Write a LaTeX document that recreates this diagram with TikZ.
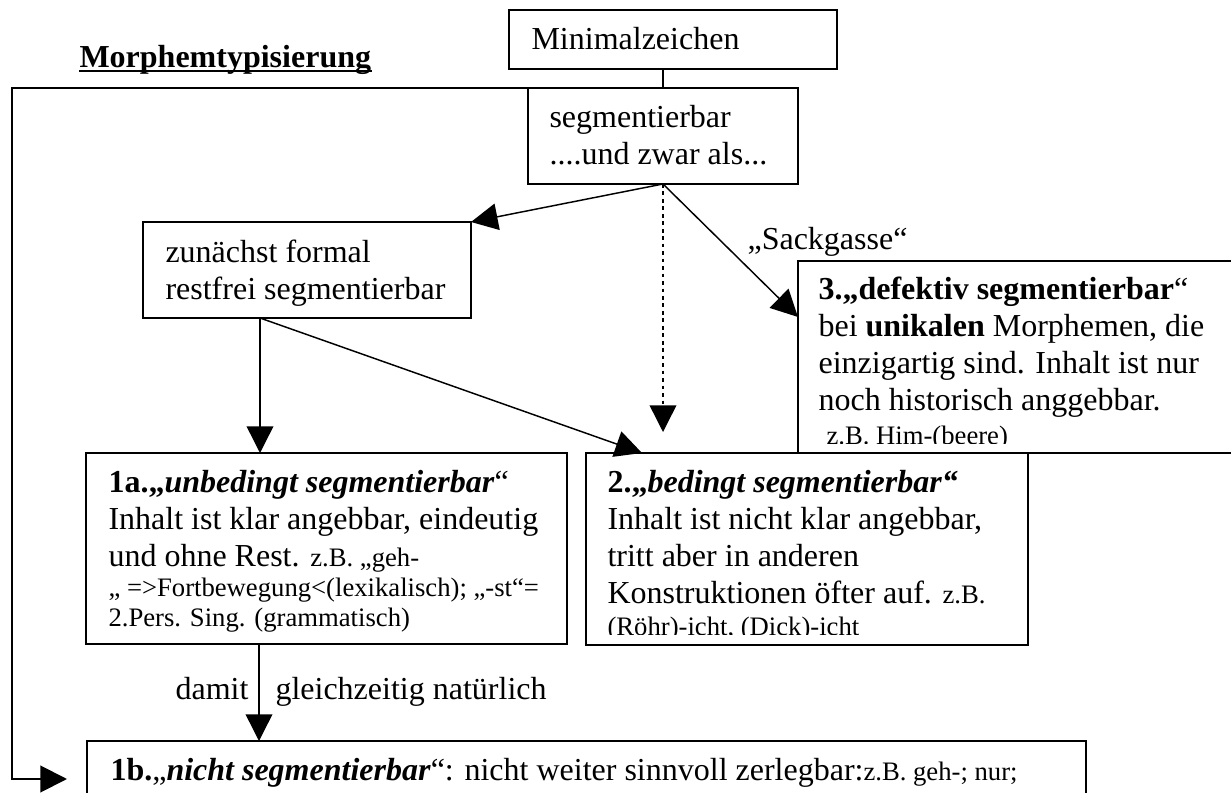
\documentclass[tikz,border=0pt]{standalone}
\usepackage{fontspec}
\setmainfont{Liberation Serif}
\usetikzlibrary{arrows.meta,calc}
\newcommand{\smz}{\fontsize{10}{11.5}\selectfont}
\tikzset{
  box/.style={draw, line width=0.75pt, rectangle, inner sep=0pt, outer sep=0pt, anchor=north west},
  txt/.style={anchor=base west, inner sep=0pt, font=\fontsize{12}{13.8}\selectfont},
  smtxt/.style={anchor=base west, inner sep=0pt, font=\smz},
  conn/.style={line width=0.55pt, -{Triangle[length=10pt,width=10pt]}},
  dotconn/.style={conn, dash pattern=on 1.4pt off 1.4pt},
  bracket/.style={line width=0.75pt, -{Triangle[length=10pt,width=10pt]}},
}
\begin{document}
\begin{tikzpicture}[x=0.375pt, y=-0.375pt]
\clip (0,0) rectangle (1231,793);
\fill[white] (0,0) rectangle (1231,793);

% title
\node[txt] (title) at (79,68) {\textbf{Morphemtypisierung}};
\draw[line width=0.75pt] ([yshift=-1.2pt]title.base west) -- ([yshift=-1.2pt]title.base east);

% texts
\node[txt] (mt) at (531,50) {Minimalzeichen};
\node[txt] (st1) at (549,128) {segmentierbar};
\node[txt] (st2) at (549,165) {....und zwar als...};
\node[txt] (zt1) at (165,263) {zunächst formal};
\node[txt] (zt2) at (165,300) {restfrei segmentierbar};

\node[txt] (b3a) at (818,300) {\textbf{3.„defektiv segmentierbar}“};
\node[txt] (b3b) at (818,337) {bei \textbf{unikalen} Morphemen, die};
\node[txt] (b3c) at (818,374) {einzigartig sind. Inhalt ist nur};
\node[txt] (b3d) at (818,411) {noch historisch anggebbar.};
\begin{scope}
\clip (798,420) rectangle (1231,444);
\node[smtxt] (b3e) at (826,445) {z.B. Him-(beere)};
\end{scope}

\node[txt] (a1a) at (108,493) {\textbf{1a.„\textit{unbedingt segmentierbar}}“};
\node[txt] (a1b) at (108,530) {Inhalt ist klar angebbar, eindeutig};
\node[txt] (a1c) at (108,567) {und ohne Rest. {\smz z.B. „geh-}};
\node[smtxt] (a1d) at (108,597) {„ =>Fortbewegung<(lexikalisch); „-st“=};
\node[smtxt] (a1e) at (108,627) {2.Pers. Sing. (grammatisch)};

\node[txt] (a2a) at (607,493) {\textbf{2.„\textit{bedingt segmentierbar“}}};
\node[txt] (a2b) at (607,530) {Inhalt ist nicht klar angebbar,};
\node[txt] (a2c) at (607,567) {tritt aber in anderen};
\node[txt] (a2d) at (607,604) {Konstruktionen öfter auf. {\smz z.B.}};
\begin{scope}
\clip (586,610) rectangle (1028,635);
\node[smtxt] (a2e) at (607,636) {(Röhr)-icht, (Dick)-icht};
\end{scope}

\node[txt] (b1a) at (110,780) {\textbf{1b.}„\textbf{\textit{nicht segmentierbar}}“: nicht weiter sinnvoll zerlegbar:{\smz z.B. geh-; nur;}};

% boxes
\node[box, minimum width={328*0.375pt}, minimum height={59*0.375pt}] (M) at (509,10) {};
\node[box, minimum width={270*0.375pt}, minimum height={96*0.375pt}] (S) at (528,88) {};
\node[box, minimum width={328*0.375pt}, minimum height={96*0.375pt}] (Z) at (143,222) {};
\node[box, minimum width={460*0.375pt}, minimum height={192*0.375pt}] (B3) at (798,261) {};
\node[box, minimum width={481*0.375pt}, minimum height={191*0.375pt}] (A1) at (86,453) {};
\node[box, minimum width={442*0.375pt}, minimum height={192*0.375pt}] (A2) at (586,453) {};
\node[box, minimum width={999*0.375pt}, minimum height={120*0.375pt}] (B1) at (87,741) {};

% connector points
\coordinate (t3) at ($(B3.north west)+(0,56)$);
\coordinate (dt) at ($(S.south |- A2.north)+(0,-21)$);
\coordinate (zb) at ($(Z.south west)+(117,0)$);
\coordinate (a2in) at ($(A2.north west)+(56,0)$);
\coordinate (a1b) at ($(A1.south west)+(173,0)$);
\coordinate (bl1) at (12,88);
\coordinate (bl2) at (67,779);

% connectors
\draw[line width=0.55pt] (M.south -| S.south) -- (S.north);
\draw[conn] (S.south) -- (Z.north east);
\draw[dotconn] (S.south) -- (dt);
\draw[conn] (S.south) -- (t3);
\node[txt] (sack) at (747,250) {„Sackgasse“};
\draw[conn] (zb) -- (zb |- A1.north);
\draw[conn] (zb) -- (a2in);
\draw[conn] (a1b) -- (a1b |- B1.north);
\node[txt, anchor=base east] (damit) at (249,700) {damit};
\node[txt] (gleich) at (275,700) {gleichzeitig natürlich};
\draw[bracket] (S.north west) -- (bl1) |- (bl2);
\end{tikzpicture}
\end{document}
